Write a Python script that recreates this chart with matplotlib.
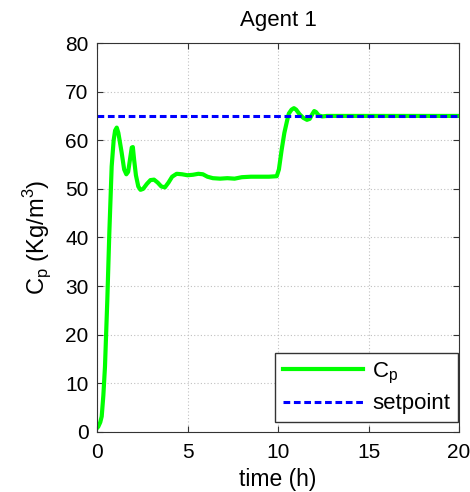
import numpy as np
import matplotlib.pyplot as plt

plt.rcParams['font.family'] = ['Liberation Sans', 'DejaVu Sans']
plt.rcParams['mathtext.fontset'] = 'custom'
plt.rcParams['mathtext.rm'] = 'Liberation Sans'

# concentration response of agent 1
time_h = [0, 0.07, 0.18, 0.26, 0.35, 0.44, 0.57, 0.68, 0.81, 0.92, 1.00, 1.09,
          1.18, 1.27, 1.36, 1.50, 1.62, 1.72, 1.82, 1.92, 1.98, 2.05, 2.15,
          2.28, 2.40, 2.55, 2.75, 2.95, 3.15, 3.35, 3.55, 3.75, 3.95, 4.15,
          4.40, 4.70, 5.00, 5.30, 5.60, 5.85, 6.10, 6.40, 6.80, 7.20, 7.60,
          8.00, 8.50, 9.00, 9.50, 9.93, 10.05, 10.20, 10.35, 10.50, 10.60,
          10.75, 10.88, 11.00, 11.20, 11.40, 11.60, 11.75, 11.90, 12.00,
          12.10, 12.25, 12.45, 12.70, 13.50, 20.0]
cp = [0.8, 1.1, 2.0, 3.2, 7.5, 13.4, 27.2, 40.9, 54.6, 60.0, 62.0, 62.6,
      61.5, 59.5, 57.5, 54.0, 53.0, 53.5, 56.0, 58.5, 58.6, 56.0, 52.8,
      50.5, 49.8, 50.0, 51.0, 51.8, 51.9, 51.3, 50.5, 50.3, 51.3, 52.5,
      53.1, 53.0, 52.8, 52.9, 53.1, 53.0, 52.5, 52.2, 52.1, 52.2, 52.1,
      52.4, 52.5, 52.5, 52.5, 52.6, 54.0, 58.0, 61.5, 64.0, 65.5,
      66.3, 66.6, 66.3, 65.3, 64.6, 64.2, 64.4, 65.4, 66.0,
      65.8, 65.1, 64.9, 65.0, 65.0, 65.0]
setpoint = 65
t_range = [0, 20]

fig = plt.figure(figsize=(4.7, 4.92), dpi=100)
ax = fig.add_axes([0.2064, 0.122, 0.7702, 0.7906])

ax.plot(time_h, cp, color='#00ff00', linewidth=3, label='C$_\\mathregular{p}$')
ax.plot(t_range, [setpoint, setpoint], color='#0000ff', linestyle='--',
        linewidth=2.2, dashes=(2.2, 1.2), label='setpoint')

ax.set_xlim(0, 20)
ax.set_ylim(0, 80)
ax.set_xticks([0, 5, 10, 15, 20])
ax.set_yticks(range(0, 81, 10))
ax.grid(True, linestyle=(0, (1, 2)), color='#c0c0c0', linewidth=0.8)
ax.tick_params(direction='in', top=True, right=True, labelsize=15, length=4,
               color='#333333')
ax.tick_params(axis='x', pad=8)
ax.tick_params(axis='y', pad=6)
for s in ax.spines.values():
    s.set_color('#333333')

ax.set_title('Agent 1', fontsize=16, pad=12)
ax.set_xlabel('time (h)', fontsize=16.5, labelpad=4)
ax.set_ylabel('C$_\\mathregular{p}$ (Kg/m$^\\mathregular{3}$)', fontsize=17, labelpad=8)

leg = ax.legend(loc='lower right', bbox_to_anchor=(0.997, 0.025), fontsize=16,
                fancybox=False, framealpha=1, edgecolor='#333333',
                handlelength=3.6, borderaxespad=0.0, labelspacing=0.35,
                handletextpad=0.4, borderpad=0.35)
leg.get_frame().set_linewidth(1.0)

fig.savefig('out.png', dpi=100)
